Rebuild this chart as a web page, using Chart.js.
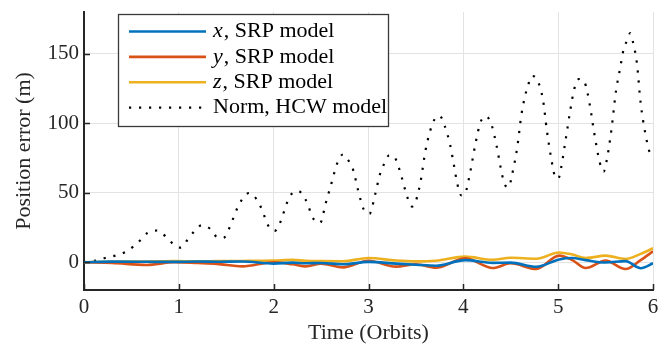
<!DOCTYPE html>
<html>
<head>
<meta charset="utf-8">
<script src="https://cdn.jsdelivr.net/npm/chart.js@4"></script>
<style>
    html, body { margin: 0; padding: 0; background: #fff; }
    #wrap { width: 668px; height: 346px; position: relative; }
</style>
</head>
<body>
<div id="wrap"><canvas id="chart"></canvas></div>
<script>
// Norm of the HCW position error (time in orbits, metres)
const hcwTime = [0, 0.12, 0.22, 0.33, 0.43, 0.52, 0.60, 0.67, 0.77, 0.86, 0.94, 1.02, 1.09, 1.16, 1.24, 1.33, 1.40, 1.47,
    1.53, 1.61, 1.66, 1.74, 1.82, 1.87, 1.95, 2.01, 2.07, 2.14, 2.19, 2.26, 2.34, 2.42, 2.49, 2.55, 2.61, 2.67, 2.73,
    2.79, 2.84, 2.89, 2.95, 3.01, 3.07, 3.12, 3.16, 3.22, 3.28, 3.35, 3.41, 3.46, 3.50, 3.55, 3.60, 3.65, 3.69, 3.75,
    3.80, 3.86, 3.90, 3.94, 3.98, 4.02, 4.07, 4.13, 4.18, 4.24, 4.30, 4.35, 4.41, 4.44, 4.48, 4.51, 4.57, 4.61, 4.65,
    4.68, 4.72, 4.78, 4.84, 4.88, 4.93, 4.96, 5.00, 5.03, 5.08, 5.13, 5.17, 5.22, 5.28, 5.33, 5.38, 5.44, 5.48, 5.51,
    5.56, 5.61, 5.65, 5.69, 5.73, 5.76, 5.79, 5.83, 5.87, 5.92, 5.96, 6.00];
const hcwNorm = [0, 1.1, 3.0, 4.7, 7.1, 11.2, 16.2, 21.1, 22.8, 18.6, 13.1, 10.5, 16, 22, 26.6, 24, 18.2, 17.5,
    24.2, 37.9, 44.4, 49.8, 45.3, 38.8, 25.4, 22.5, 28.7, 42.7, 49.2, 51.2, 44.6, 31.2, 28.3, 42.7, 56.9, 71.1, 77.5,
    73, 66, 51.8, 37.9, 34.8, 48.7, 63.1, 70, 77, 75, 61.1, 46.7, 40, 44.2, 58.3, 80, 94.4, 102, 105.3,
    98.8, 84.6, 70.1, 55.4, 48, 49.6, 64, 86, 100.5, 105, 98.3, 83.9, 62.5, 55.4, 54, 61.7, 83.4, 105, 119.4,
    126.6, 134, 131, 116.8, 95.2, 73.3, 63, 60, 67.5, 88.6, 110.2, 124.7, 131.8, 129.1, 114.6, 93, 71.4, 65.2, 72.6,
    94.5, 123.3, 138.3, 153, 160, 164.8, 158, 143.3, 114.4, 92.3, 80, 75];

// SRP model components
const srpTime = [0, 0.3, 0.66, 0.95, 1.2, 1.4, 1.67, 2.0, 2.2, 2.34, 2.5, 2.73, 3.0, 3.29, 3.5, 3.71, 4.02, 4.31,
    4.5, 4.77, 5.01, 5.15, 5.29, 5.5, 5.71, 5.87, 6.0];
const srpX = [0, 0.4, 0.3, 0.2, 0.5, 0.3, 0.5, -1.0, -0.3, -0.8, -0.6, -1.5, 0.2, -1.0, -1.8, -2.5, 1.5, -0.5,
    -0.3, -3.3, 2.0, 3.0, 1.5, -0.2, 0.8, -4.3, -0.8];
const srpY = [0, -0.5, -2.0, 0, -0.6, -1.2, -3.0, 0, -1.5, -3.0, -1.0, -3.7, 1.0, -3.2, -1.5, -4.0, 2.8, -4.2,
    -0.8, -4.9, 4.7, 1.5, -4.2, 1.1, -4.9, 1.5, 7.8];
const srpZ = [0, 0.3, 0.5, 0.8, 0.6, 0.8, 0.9, 1.2, 1.7, 1.0, 0.8, 0.7, 3.0, 1.2, 0.6, 1.1, 4.0, 1.8,
    3.2, 2.5, 7.0, 5.5, 3.0, 4.7, 2.3, 6.0, 10.0];

const xTicks = [0, 1, 2, 3, 4, 5, 6];
const yTicks = [0, 50, 100, 150];
const legendVars = ['x', 'y', 'z', ''];
const legendTexts = [', SRP model', ', SRP model', ', SRP model', 'Norm, HCW model'];

const AXIS_COLOR = '#262626';
const GRID_COLOR = '#e3e3e3';
const FONT_FAMILY = '"Liberation Serif", "Times New Roman", serif';
const COLORS = ['#0072BD', '#D95319', '#EDB120', '#000000'];

function toPoints(times, values) {
    return times.map((t, i) => ({ x: t, y: values[i] }));
}

function lineDataset(label, times, values, color, extra = {}) {
    return {
        label,
        data: toPoints(times, values),
        borderColor: color,
        backgroundColor: color,
        borderWidth: 2.6,
        pointRadius: 0,
        fill: false,
        cubicInterpolationMode: 'monotone',
        ...extra
    };
}

// MATLAB style ticks pointing into the axes
const inwardTicks = {
    id: 'inwardTicks',
    afterDatasetsDraw(chart) {
        const { ctx, chartArea, scales } = chart;
        ctx.save();
        ctx.strokeStyle = AXIS_COLOR;
        ctx.lineWidth = 1.5;
        ctx.beginPath();
        xTicks.forEach((v) => {
            const px = Math.round(scales.x.getPixelForValue(v)) + 0.5;
            ctx.moveTo(px, chartArea.bottom);
            ctx.lineTo(px, chartArea.bottom - 6);
        });
        yTicks.forEach((v) => {
            const py = Math.round(scales.y.getPixelForValue(v)) + 0.5;
            ctx.moveTo(chartArea.left, py);
            ctx.lineTo(chartArea.left + 6, py);
        });
        ctx.stroke();
        ctx.restore();
    }
};

const boxedLegend = {
    id: 'boxedLegend',
    afterDraw(chart) {
        const { ctx, chartArea } = chart;
        const left = chartArea.left + 34;
        const top = chartArea.top + 2;
        const width = 270;
        const height = 112;
        ctx.save();
        ctx.fillStyle = '#fff';
        ctx.fillRect(left, top, width, height);
        ctx.strokeStyle = '#3a3a3a';
        ctx.lineWidth = 1.3;
        ctx.strokeRect(left + 0.5, top + 0.5, width, height);

        const rowStart = top + 17.5;
        const rowStep = 25.4;
        chart.data.datasets.forEach((ds, i) => {
            const y = rowStart + i * rowStep;
            ctx.beginPath();
            ctx.strokeStyle = ds.borderColor;
            ctx.lineWidth = ds.borderWidth;
            ctx.setLineDash(ds.borderDash || []);
            ctx.moveTo(left + 11, y);
            ctx.lineTo(left + 88, y);
            ctx.stroke();
            ctx.setLineDash([]);

            let x = left + 95;
            ctx.fillStyle = '#000';
            ctx.textBaseline = 'middle';
            if (legendVars[i]) {
                ctx.font = `italic 22px ${FONT_FAMILY}`;
                ctx.fillText(legendVars[i], x, y);
                x += ctx.measureText(legendVars[i]).width + 1;
            }
            ctx.font = `22px ${FONT_FAMILY}`;
            ctx.fillText(legendTexts[i], x, y);
        });
        ctx.restore();
    }
};

new Chart(document.getElementById('chart'), {
    type: 'line',
    data: {
        datasets: [
            lineDataset('x, SRP model', srpTime, srpX, COLORS[0]),
            lineDataset('y, SRP model', srpTime, srpY, COLORS[1]),
            lineDataset('z, SRP model', srpTime, srpZ, COLORS[2]),
            lineDataset('Norm, HCW model', hcwTime, hcwNorm, COLORS[3], {
                borderWidth: 2.2,
                borderDash: [2.2, 7.8]
            })
        ]
    },
    options: {
        responsive: true,
        maintainAspectRatio: false,
        animation: false,
        devicePixelRatio: 1,
        layout: { padding: { top: 12, right: 15, left: 0, bottom: 0 } },
        plugins: {
            legend: { display: false },
            tooltip: { enabled: false }
        },
        scales: {
            x: {
                type: 'linear',
                min: 0,
                max: 6,
                afterBuildTicks: (scale) => { scale.ticks = xTicks.map((v) => ({ value: v })); },
                afterFit: (scale) => {
                    scale.height = 56;
                    scale.paddingLeft = 0;
                    scale.paddingRight = 0;
                },
                ticks: {
                    color: AXIS_COLOR,
                    padding: 5,
                    font: { family: FONT_FAMILY, size: 21 },
                    maxRotation: 0
                },
                grid: { color: GRID_COLOR, lineWidth: 1, drawTicks: false },
                border: { display: true, color: AXIS_COLOR, width: 2 },
                title: {
                    display: true,
                    text: 'Time (Orbits)',
                    color: AXIS_COLOR,
                    font: { family: FONT_FAMILY, size: 22 },
                    padding: { top: 0, bottom: 0 }
                }
            },
            y: {
                type: 'linear',
                min: -20,
                max: 180,
                afterBuildTicks: (scale) => { scale.ticks = yTicks.map((v) => ({ value: v })); },
                afterFit: (scale) => {
                    scale.width = 84;
                    scale.paddingTop = 0;
                    scale.paddingBottom = 0;
                },
                ticks: {
                    color: AXIS_COLOR,
                    padding: 5,
                    font: { family: FONT_FAMILY, size: 21 }
                },
                grid: { color: GRID_COLOR, lineWidth: 1, drawTicks: false },
                border: { display: true, color: AXIS_COLOR, width: 2 },
                title: {
                    display: true,
                    text: 'Position error (m)',
                    color: AXIS_COLOR,
                    font: { family: FONT_FAMILY, size: 22 },
                    padding: { top: 11, bottom: 0 }
                }
            }
        }
    },
    plugins: [inwardTicks, boxedLegend]
});
</script>
</body>
</html>
